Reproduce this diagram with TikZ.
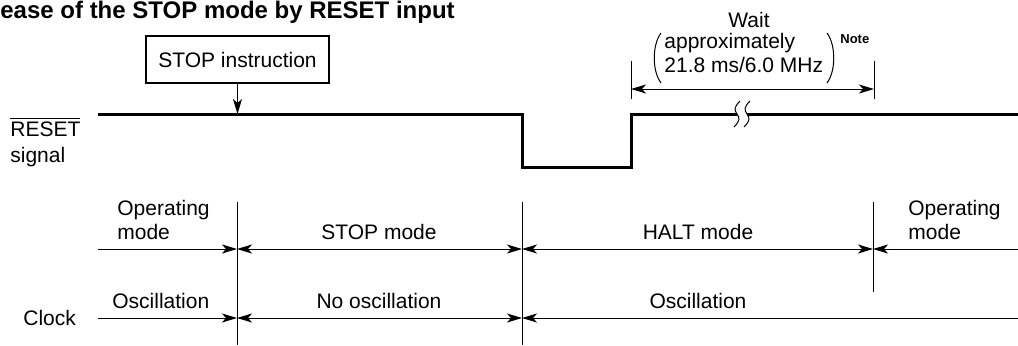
\documentclass[tikz,border=0pt]{standalone}
\usepackage{fontspec}
\setmainfont{Liberation Sans}
\usetikzlibrary{arrows.meta}

\tikzset{
  mytip/.tip={Stealth[length=7.5pt,width=4.5pt,inset=2pt]},
  lbl/.style={inner sep=0pt, font=\fontsize{10.5}{12}\selectfont},
  tline/.style={line width=0.5pt},
  sig/.style={line width=1.5pt},
  arr/.style={tline, -mytip},
  dimarr/.style={tline, mytip-mytip},
}

\begin{document}
\begin{tikzpicture}[x=0.5pt, y=-0.5pt]
    \useasboundingbox (0,0) rectangle (1018,345);
    \node[anchor=base west, inner sep=0pt, font=\fontsize{12}{14}\selectfont\bfseries] (title) at (0,18) {ease of the STOP mode by RESET input};
    % RESET signal
    \node[lbl, anchor=base west] (rst) at (10,136) {$\overline{\mbox{RESET}}$};
    \node[lbl, anchor=base west] (sgn) at (10,162) {signal};
    \coordinate (s0) at (98,114);
    \coordinate (fall) at (522,114);
    \coordinate (low1) at (522,167);
    \coordinate (low2) at (631,167);
    \coordinate (rise) at (631,114);
    \coordinate (brk1) at (737,114);
    \coordinate (brk2) at (747,114);
    \coordinate (s1) at (1018,114);
    \draw[sig] (s0) -- (fall) -- (low1) -- (low2) -- (rise) -- (brk1);
    \draw[sig] (brk2) -- (s1);
    \foreach \bx in {737,747}
      \draw[tline] ({\bx+3},101) .. controls ({\bx-3},107) and ({\bx-3},110) .. (\bx,114) .. controls ({\bx+3},118) and ({\bx+3},121) .. ({\bx-3},127);
    \node[lbl, draw, line width=1pt, minimum width=91.5pt, minimum height=23.5pt] (stopinstr) at (237.5,59.5) {STOP instruction};
    \draw[arr] (stopinstr) -- (stopinstr |- s0);
    % wait time
    \coordinate (w0) at (631,89);
    \coordinate (w1) at (874,89);
    \draw[tline] (631,61) -- (631,99);
    \draw[tline] (874,61) -- (874,99);
    \draw[dimarr] (w0) -- (w1);
    \node[lbl, anchor=base] (wait) at (749,27) {Wait};
    \node[lbl, anchor=base west] (appr) at (664,48) {approximately};
    \node[lbl, anchor=base west] (freq) at (664,72) {21.8 ms/6.0 MHz};
    \draw[tline] (661,33) .. controls (652,45) and (652,71) .. (661,83);
    \draw[tline] (827,33) .. controls (836,45) and (836,71) .. (827,83);
    \node[anchor=base west, inner sep=0pt, font=\fontsize{6.5}{7}\selectfont\bfseries] (note) at (840,43) {Note};
    % modes
    \draw[tline] (237,202) -- (237,345);
    \draw[tline] (522,202) -- (522,345);
    \draw[tline] (873,202) -- (873,292);
    \coordinate (m0) at (98,249);
    \coordinate (m1) at (237,249);
    \coordinate (m2) at (522,249);
    \coordinate (m3) at (873,249);
    \coordinate (m4) at (1018,249);
    \draw[arr] (m0) -- (m1);
    \draw[dimarr] (m1) -- (m2);
    \draw[dimarr] (m2) -- (m3);
    \draw[arr] (m4) -- (m3);
    \node[lbl, anchor=base west] (op1a) at (117,215) {Operating};
    \node[lbl, anchor=base west] (op1b) at (117,239) {mode};
    \node[lbl, anchor=base] (stopm) at (379,239) {STOP mode};
    \node[lbl, anchor=base] (haltm) at (698,239) {HALT mode};
    \node[lbl, anchor=base west] (op2a) at (908,215) {Operating};
    \node[lbl, anchor=base west] (op2b) at (908,239) {mode};
    % clock
    \coordinate (c0) at (98,318);
    \coordinate (c1) at (237,318);
    \coordinate (c2) at (522,318);
    \coordinate (c3) at (1018,318);
    \draw[arr] (c0) -- (c1);
    \draw[dimarr] (c1) -- (c2);
    \draw[arr] (c3) -- (c2);
    \node[lbl, anchor=base west] (clk) at (23,325) {Clock};
    \node[lbl, anchor=base west] (osc1) at (112,308) {Oscillation};
    \node[lbl, anchor=base] (nosc) at (379,308) {No oscillation};
    \node[lbl, anchor=base] (osc2) at (698,308) {Oscillation};
\end{tikzpicture}
\end{document}
